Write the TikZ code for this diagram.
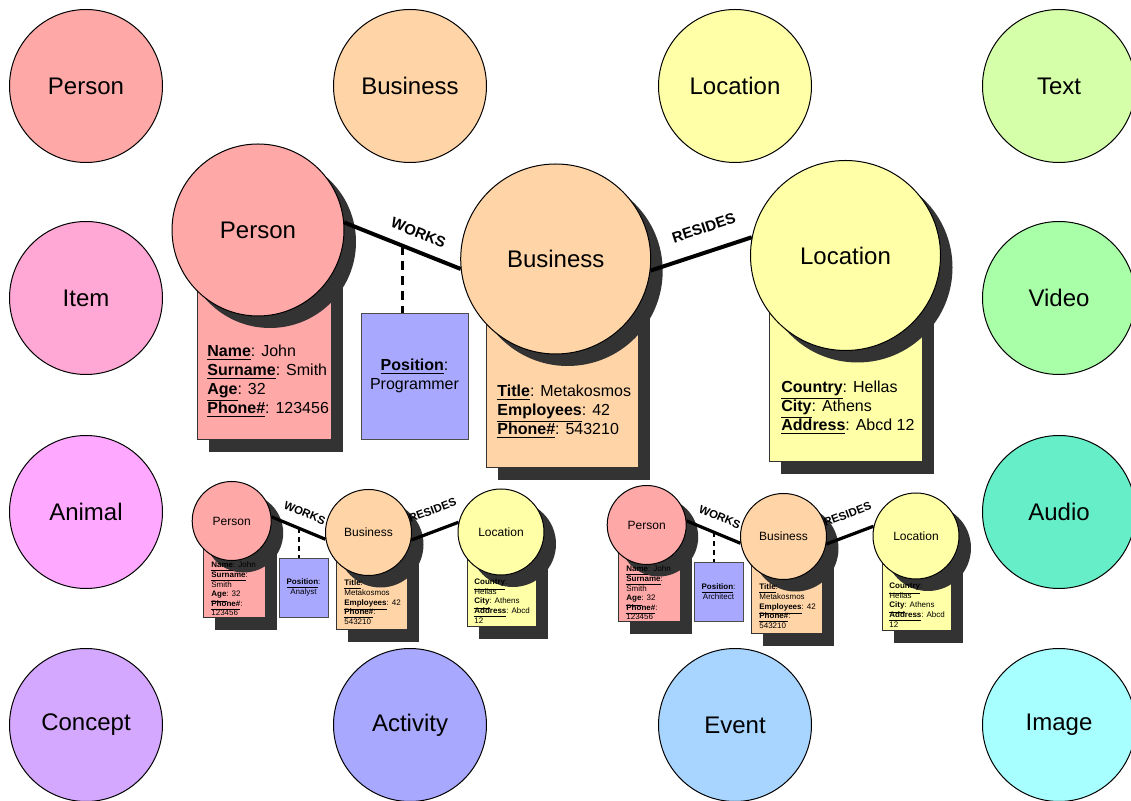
\documentclass[tikz,border=0pt]{standalone}
\usepackage{fontspec}
\setmainfont{Liberation Sans}
\usetikzlibrary{shadows}

\definecolor{personred}{HTML}{FFA8A8}
\definecolor{businessorange}{HTML}{FFD5A8}
\definecolor{locationyellow}{HTML}{FFFFA8}
\definecolor{textgreen}{HTML}{D5FFA8}
\definecolor{itempink}{HTML}{FFA8D5}
\definecolor{videogreen}{HTML}{A8FFA8}
\definecolor{animalmagenta}{HTML}{FFA8FF}
\definecolor{audioteal}{HTML}{66EEC8}
\definecolor{conceptpurple}{HTML}{D5A8FF}
\definecolor{activityblue}{HTML}{A8A8FF}
\definecolor{eventblue}{HTML}{A8D5FF}
\definecolor{imagecyan}{HTML}{A8FFFF}

\newcommand{\fieldlabel}[1]{\smash{\underline{\textbf{#1}}}}

\begin{document}
\begin{tikzpicture}[x=0.5pt, y=-0.5pt,
	catnode/.style={circle, draw=black, line width=0.5pt, minimum size=76.5pt, inner sep=0pt, font=\fontsize{12}{14}\selectfont},
	dropshade/.style={drop shadow={shadow xshift=6pt, shadow yshift=-6pt, fill=black!80, opacity=1}},
	bignode/.style={circle, draw=black, line width=0.5pt, inner sep=0pt, font=\fontsize{12}{14}\selectfont, dropshade},
	smallnode/.style={bignode, font=\fontsize{6}{7}\selectfont},
	infobox/.style={rectangle, draw=black!80, line width=0.5pt, inner sep=0pt, dropshade},
	posbox/.style={rectangle, draw=black!70, fill=activityblue, line width=0.5pt, inner sep=0pt, align=center},
	bigtext/.style={anchor=west, inner sep=0pt, align=left, font=\fontsize{8}{9.5}\selectfont},
	smalltext/.style={anchor=west, inner sep=0pt, align=left, font=\fontsize{4}{4.8}\selectfont},
	bigrel/.style={line width=2pt},
	smallrel/.style={line width=1.6pt},
	biglabel/.style={sloped, font=\fontsize{7.5}{9}\selectfont\bfseries},
	smalllabel/.style={sloped, font=\fontsize{5.7}{7}\selectfont\bfseries}]
	\useasboundingbox (0,0) rectangle (1131,801);

	% category circles
	\node[catnode, fill=personred] (catperson) at (86,86) {Person};
	\node[catnode, fill=businessorange] (catbusiness) at (410,86) {Business};
	\node[catnode, fill=locationyellow] (catlocation) at (735,86) {Location};
	\node[catnode, fill=textgreen] (cattext) at (1059,86) {Text};
	\node[catnode, fill=itempink] (catitem) at (86,298) {Item};
	\node[catnode, fill=videogreen] (catvideo) at (1059,298) {Video};
	\node[catnode, fill=animalmagenta] (catanimal) at (86,512) {Animal};
	\node[catnode, fill=audioteal] (cataudio) at (1059,512) {Audio};
	\node[catnode, fill=conceptpurple] (catconcept) at (86,725) {Concept};
	\node[catnode, fill=activityblue] (catactivity) at (410,725) {Activity};
	\node[catnode, fill=eventblue] (catevent) at (735,725) {Event};
	\node[catnode, fill=imagecyan] (catimage) at (1059,725) {Image};

	% big example
	\node[infobox, fill=personred, minimum width=67pt, minimum height=85pt] (personbox) at (264,355) {};
	\node[infobox, fill=businessorange, minimum width=76pt, minimum height=84pt] (businessbox) at (562,384) {};
	\node[infobox, fill=locationyellow, minimum width=76.5pt, minimum height=81pt] (locationbox) at (845.5,381) {};
	\node[bignode, fill=personred, minimum size=86pt] (person) at (258,230) {Person};
	\node[bignode, fill=businessorange, minimum size=95pt] (business) at (555.7,259) {Business};
	\node[bignode, fill=locationyellow, minimum size=95pt] (location) at (845.5,255.5) {Location};
	\node[bigtext] (personinfo) at (207,379) {\fieldlabel{Name}: John\\\fieldlabel{Surname}: Smith\\\fieldlabel{Age}: 32\\\fieldlabel{Phone\#}: 123456};
	\node[bigtext] (businessinfo) at (497,409.5) {\fieldlabel{Title}: Metakosmos\\\fieldlabel{Employees}: 42\\\fieldlabel{Phone\#}: 543210};
	\node[bigtext] (locationinfo) at (781,406) {\fieldlabel{Country}: Hellas\\\fieldlabel{City}: Athens\\\fieldlabel{Address}: Abcd 12};
	\node[posbox, minimum width=53.5pt, minimum height=63pt, font=\fontsize{8}{9.5}\selectfont] (position) at (414.5,377) {\fieldlabel{Position}:\\Programmer};
	\draw[bigrel] (person.5) -- coordinate[pos=0.5] (worksmid) node[biglabel, pos=0.58, above=2pt] {WORKS} (business.186);
	\draw[bigrel] (business.353) -- node[biglabel, pos=0.6, above=5pt] {RESIDES} (location.169);
	\draw[line width=1.5pt, dash pattern=on 4.5pt off 3pt] (worksmid) -- (worksmid |- position.north);

	% small example (analyst)
	\node[infobox, fill=personred, minimum width=31pt, minimum height=39pt] (analystpersonbox) at (234,579) {};
	\node[infobox, fill=businessorange, minimum width=35.5pt, minimum height=40pt] (analystbusinessbox) at (371.5,590) {};
	\node[infobox, fill=locationyellow, minimum width=34.5pt, minimum height=36pt] (analystlocationbox) at (501.5,591) {};
	\node[smallnode, fill=personred, minimum size=39.5pt] (analystperson) at (231.7,521) {Person};
	\node[smallnode, fill=businessorange, minimum size=43pt] (analystbusiness) at (368.5,532.5) {Business};
	\node[smallnode, fill=locationyellow, minimum size=43pt] (analystlocation) at (501,532) {Location};
	\node[smalltext] (analystpersoninfo) at (211,589) {\fieldlabel{Name}: John\\\fieldlabel{Surname}:\\Smith\\\fieldlabel{Age}: 32\\\fieldlabel{Phone\#}:\\123456};
	\node[smalltext] (analystbusinessinfo) at (344,603) {\fieldlabel{Title}:\\Metakosmos\\\fieldlabel{Employees}: 42\\\fieldlabel{Phone\#}:\\543210};
	\node[smalltext] (analystlocationinfo) at (474,601.7) {\fieldlabel{Country}:\\Hellas\\\fieldlabel{City}: Athens\\\fieldlabel{Address}: Abcd\\12};
	\node[posbox, minimum width=24.5pt, minimum height=29.5pt, font=\fontsize{4}{4.8}\selectfont] (analystposition) at (303.5,588.5) {\fieldlabel{Position}:\\Analyst};
	\draw[smallrel] (analystperson.6) -- coordinate[pos=0.5] (analystworksmid) node[smalllabel, pos=0.5, above=2pt] {WORKS} (analystbusiness.189);
	\draw[smallrel] (analystbusiness.350) -- node[smalllabel, pos=0.6, above=4pt] {RESIDES} (analystlocation.167);
	\draw[line width=1pt, dash pattern=on 2.5pt off 2pt] (analystworksmid) -- (analystworksmid |- analystposition.north);

	% small example (architect)
	\node[infobox, fill=personred, minimum width=31pt, minimum height=39pt] (architectpersonbox) at (649,583) {};
	\node[infobox, fill=businessorange, minimum width=35.5pt, minimum height=40pt] (architectbusinessbox) at (786.5,594) {};
	\node[infobox, fill=locationyellow, minimum width=34.5pt, minimum height=36pt] (architectlocationbox) at (916.5,595) {};
	\node[smallnode, fill=personred, minimum size=39.5pt] (architectperson) at (646.7,525) {Person};
	\node[smallnode, fill=businessorange, minimum size=43pt] (architectbusiness) at (783.5,536.5) {Business};
	\node[smallnode, fill=locationyellow, minimum size=43pt] (architectlocation) at (916,536) {Location};
	\node[smalltext] (architectpersoninfo) at (626,593) {\fieldlabel{Name}: John\\\fieldlabel{Surname}:\\Smith\\\fieldlabel{Age}: 32\\\fieldlabel{Phone\#}:\\123456};
	\node[smalltext] (architectbusinessinfo) at (759,607) {\fieldlabel{Title}:\\Metakosmos\\\fieldlabel{Employees}: 42\\\fieldlabel{Phone\#}:\\543210};
	\node[smalltext] (architectlocationinfo) at (889,605.7) {\fieldlabel{Country}:\\Hellas\\\fieldlabel{City}: Athens\\\fieldlabel{Address}: Abcd\\12};
	\node[posbox, minimum width=24.5pt, minimum height=29.5pt, font=\fontsize{4}{4.8}\selectfont] (architectposition) at (718.5,592.5) {\fieldlabel{Position}:\\Architect};
	\draw[smallrel] (architectperson.6) -- coordinate[pos=0.5] (architectworksmid) node[smalllabel, pos=0.5, above=2pt] {WORKS} (architectbusiness.189);
	\draw[smallrel] (architectbusiness.350) -- node[smalllabel, pos=0.6, above=4pt] {RESIDES} (architectlocation.167);
	\draw[line width=1pt, dash pattern=on 2.5pt off 2pt] (architectworksmid) -- (architectworksmid |- architectposition.north);
\end{tikzpicture}
\end{document}
